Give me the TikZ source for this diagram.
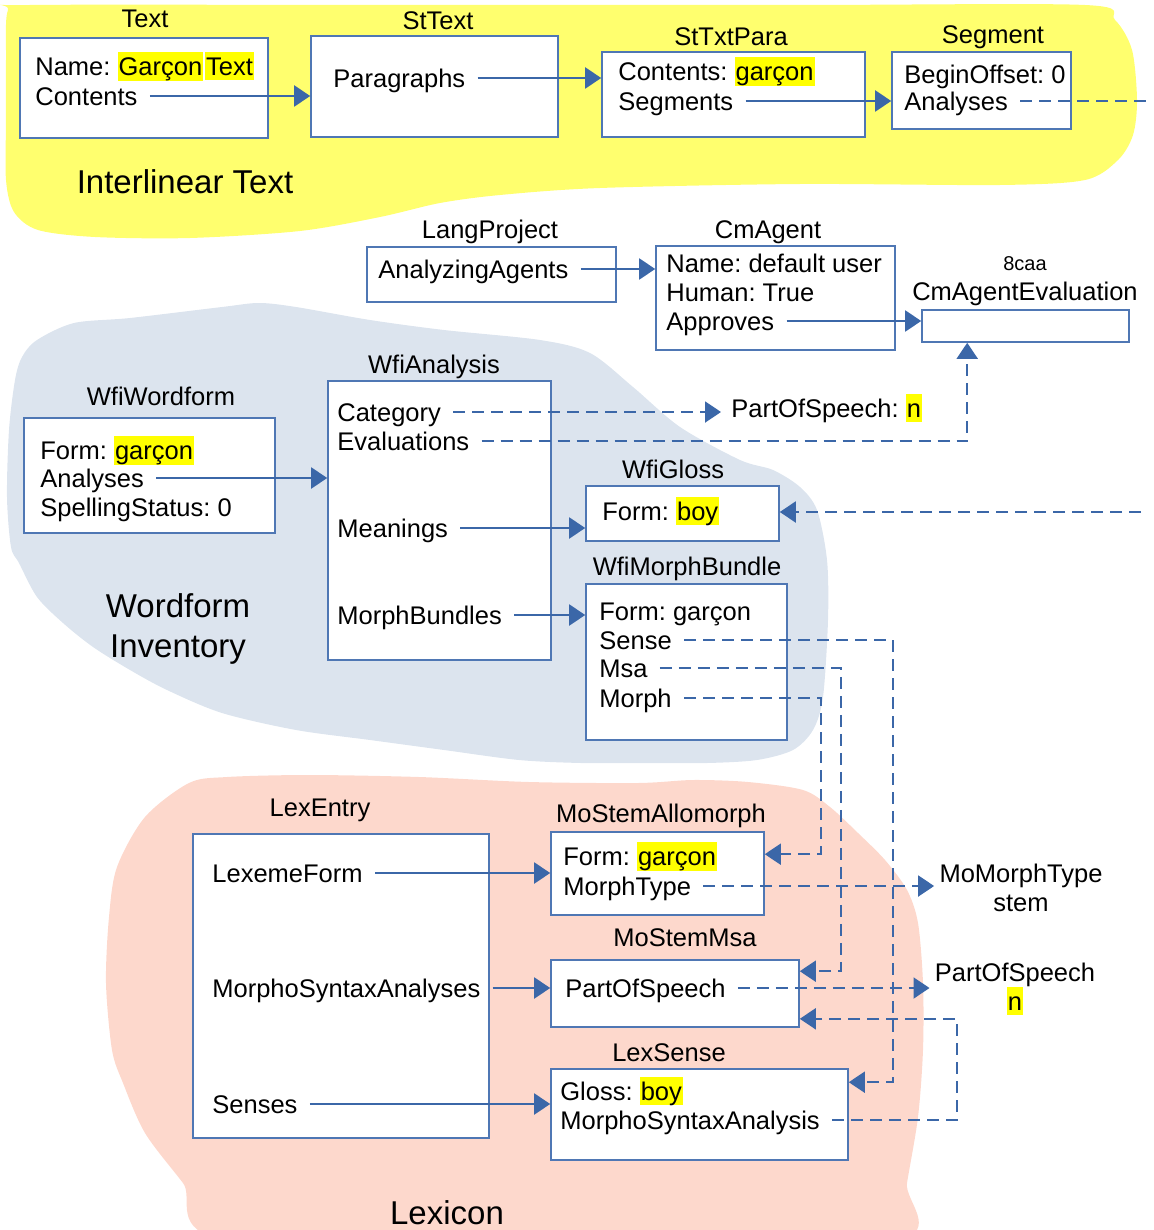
\documentclass[tikz,border=0pt]{standalone}
\usepackage{fontspec}
\setmainfont{Liberation Sans}
\usepackage{xcolor}
\usetikzlibrary{arrows.meta}
\usetikzlibrary{positioning}
\usetikzlibrary{fit}

\definecolor{linkblue}{RGB}{59,103,168}
\definecolor{boxblue}{RGB}{79,119,180}
\definecolor{itblob}{RGB}{255,255,110}
\definecolor{wfblob}{RGB}{220,228,238}
\definecolor{lxblob}{RGB}{253,216,204}
\definecolor{hlyellow}{RGB}{255,255,0}

\newcommand{\bodyfont}{\fontsize{12.75pt}{14.5pt}\selectfont}
\newcommand{\bigfont}{\fontsize{16.5pt}{20pt}\selectfont}
\newcommand{\smallfont}{\fontsize{10pt}{12pt}\selectfont}
\newcommand{\hl}[1]{{\setlength{\fboxsep}{0pt}\colorbox{hlyellow}{\rule[-2.6pt]{0pt}{14pt}\hspace{0.5pt}#1\hspace{0.5pt}}}}
\frenchspacing

\begin{document}
\begin{tikzpicture}[x=0.5pt, y=-0.5pt,
  link/.style={draw=linkblue, line width=1pt, shorten <=6pt, -{Triangle[length=8pt,width=10.5pt]}},
  dlink/.style={link, dash pattern=on 6pt off 3.5pt},
  dline/.style={draw=linkblue, line width=1pt, shorten <=6pt, dash pattern=on 6pt off 3.5pt}]
\tikzstyle{objbox} = [draw=boxblue, line width=0.8pt, fill=white, inner sep=0pt]
\tikzstyle{fld} = [anchor=west, inner sep=0pt, text height=9.1pt, text depth=0pt, font=\bodyfont]
\tikzstyle{ttl} = [inner sep=0pt, text height=9.1pt, text depth=0pt, font=\bodyfont]
\tikzstyle{area} = [inner sep=0pt, text height=11.8pt, text depth=0pt, font=\bigfont]

\useasboundingbox (0,0) rectangle (1153,1230);

\fill[itblob] plot[smooth cycle, tension=0.5] coordinates {(6,60) (8,10) (30,5) (400,5) (800,5) (1085,5) (1115,20) (1132,50) (1137,100) (1133,135) (1118,160) (1085,180) (1000,185) (800,184) (600,188) (500,195) (440,203) (380,217) (300,231) (190,238) (95,237) (38,230) (14,212) (6,180) (6,120)};
\fill[wfblob] plot[smooth cycle, tension=0.5] coordinates {(22,357) (37,340) (74,323) (130,318) (222,307) (259,303) (296,307) (370,320) (444,330) (540,340) (590,353) (633,387) (680,427) (740,460) (773,470) (800,487) (817,510) (827,560) (828,620) (823,697) (813,730) (793,750) (757,760) (707,763) (640,763) (581,763) (519,760) (444,750) (370,740) (296,730) (222,713) (167,690) (130,670) (93,647) (63,623) (37,597) (19,563) (11,547) (7,497) (9,430) (15,380)};
\fill[lxblob] plot[smooth cycle, tension=0.5] coordinates {(189,783) (227,777) (309,775) (419,777) (529,782) (638,783) (693,780) (748,782) (803,790) (830,807) (858,833) (885,860) (907,890) (918,923) (923,983) (923,1050) (918,1117) (907,1183) (898,1240) (600,1245) (227,1240) (183,1183) (145,1133) (123,1083) (112,1050) (106,983) (109,917) (117,867) (145,817)};

\node[area] (IT) at (185,182) {Interlinear Text};
\node[area, align=center, text height=, text depth=] (WI) at (178,629) {Wordform\\Inventory};
\node[area] (LX) at (447,1213) {Lexicon};

\node[objbox, fit={(20,38) (268,138)}] (Text) {};
\node[objbox, fit={(311,36) (558,137)}] (StText) {};
\node[objbox, fit={(602,52) (865,137)}] (StTxtPara) {};
\node[objbox, fit={(892,52) (1071,129)}] (Segment) {};
\node[objbox, fit={(367,247) (616,302)}] (LangProject) {};
\node[objbox, fit={(656,246) (895,350)}] (CmAgent) {};
\node[objbox, fit={(922,310) (1129,342)}] (CmEval) {};
\node[objbox, fit={(24,418) (275,533)}] (Wordform) {};
\node[objbox, fit={(328,381) (551,660)}] (Analysis) {};
\node[objbox, fit={(586,486) (779,541)}] (Gloss) {};
\node[objbox, fit={(586,584) (787,740)}] (Bundle) {};
\node[objbox, fit={(193,834) (489,1138)}] (LexEntry) {};
\node[objbox, fit={(551,832) (764,915)}] (Allomorph) {};
\node[objbox, fit={(551,960) (799,1027)}] (StemMsa) {};
\node[objbox, fit={(551,1069) (848,1160)}] (LexSense) {};

\node[ttl] (tText) at (145,18) {Text};
\node[ttl] (tStText) at (438,20) {StText};
\node[ttl] (tStTxtPara) at (731,36) {StTxtPara};
\node[ttl] (tSegment) at (993,34) {Segment};
\node[ttl] (tLangProject) at (490,229) {LangProject};
\node[ttl] (tCmAgent) at (768,229) {CmAgent};
\node[ttl, font=\smallfont, text height=7.2pt] (tGuid) at (1025,263) {8caa};
\node[ttl] (tCmEval) at (1025,291) {CmAgentEvaluation};
\node[ttl] (tAnalysis) at (434,364) {WfiAnalysis};
\node[ttl] (tWordform) at (161,396) {WfiWordform};
\node[ttl] (tGloss) at (673,469) {WfiGloss};
\node[ttl] (tBundle) at (687,566) {WfiMorphBundle};
\node[ttl] (tLexEntry) at (320,807) {LexEntry};
\node[ttl] (tAllomorph) at (661,813) {MoStemAllomorph};
\node[ttl] (tStemMsa) at (685,937) {MoStemMsa};
\node[ttl] (tLexSense) at (669,1052) {LexSense};

\node[fld] (txtName) at (35,66) {Name: \hl{Garçon}\hspace{1pt}\hl{Text}};
\node[fld] (txtContents) at (35,96) {Contents};
\node[fld] (stParagraphs) at (333,78) {Paragraphs};
\node[fld] (paraContents) at (618,71) {Contents: \hl{garçon}};
\node[fld] (paraSegments) at (618,101) {Segments};
\node[fld] (segOffset) at (904,74) {BeginOffset: 0};
\node[fld] (segAnalyses) at (904,101) {Analyses};
\node[fld] (lpAgents) at (378,269) {AnalyzingAgents};
\node[fld] (agName) at (666,263) {Name: default user};
\node[fld] (agHuman) at (666,292) {Human: True};
\node[fld] (agApproves) at (666,321) {Approves};
\node[fld] (wfForm) at (40,450) {Form: \hl{garçon}};
\node[fld] (wfAnalyses) at (40,478) {Analyses};
\node[fld] (wfStatus) at (40,507) {SpellingStatus: 0};
\node[fld] (anCategory) at (337,412) {Category};
\node[fld] (anEvals) at (337,441) {Evaluations};
\node[fld] (anMeanings) at (337,528) {Meanings};
\node[fld] (anBundles) at (337,615) {MorphBundles};
\node[fld] (posA) at (731,408) {PartOfSpeech: \hl{n}};
\node[fld] (glForm) at (602,511) {Form: \hl{boy}};
\node[fld] (mbForm) at (599,611) {Form: garçon};
\node[fld] (mbSense) at (599,640) {Sense};
\node[fld] (mbMsa) at (599,668) {Msa};
\node[fld] (mbMorph) at (599,698) {Morph};
\node[fld] (leForm) at (212,873) {LexemeForm};
\node[fld] (leMsas) at (212,988) {MorphoSyntaxAnalyses};
\node[fld] (leSenses) at (212,1104) {Senses};
\node[fld] (alForm) at (563,856) {Form: \hl{garçon}};
\node[fld] (alType) at (563,886) {MorphType};
\node[fld] (msPos) at (565,988) {PartOfSpeech};
\node[fld] (lsGloss) at (560,1091) {Gloss: \hl{boy}};
\node[fld] (lsMsa) at (560,1120) {MorphoSyntaxAnalysis};
\node[inner sep=0pt, align=center, font=\bodyfont] (MorphType) at (1021,888) {MoMorphType\\stem};
\node[inner sep=0pt, align=center, font=\bodyfont] (posB) at (1015,989) {PartOfSpeech\\\hl{n}};

\coordinate (segOut) at (1153,101);
\coordinate (glossIn) at (1153,512);

\draw[link] (txtContents.east) -- (txtContents.east -| StText.west);
\draw[link] (stParagraphs.east) -- (stParagraphs.east -| StTxtPara.west);
\draw[link] (paraSegments.east) -- (paraSegments.east -| Segment.west);
\draw[dline] (segAnalyses.east) -- (segOut);
\draw[link] (lpAgents.east) -- (lpAgents.east -| CmAgent.west);
\draw[link] (agApproves.east) -- (agApproves.east -| CmEval.west);
\draw[link] (wfAnalyses.east) -- (wfAnalyses.east -| Analysis.west);
\draw[dlink, shorten >=5pt] (anCategory.east) -- (anCategory.east -| posA.west);
\draw[dlink] (anEvals.east) -| ([xshift=23pt]CmEval.south west);
\draw[link] (anMeanings.east) -- (anMeanings.east -| Gloss.west);
\draw[link] (anBundles.east) -- (anBundles.east -| Bundle.west);
\draw[dlink] (glossIn) -- (glossIn -| Gloss.east);
\draw[dlink] (mbSense.east) -- (mbSense.east -| 893,0) |- ([yshift=-7pt]LexSense.north east);
\draw[dlink] (mbMsa.east) -- (mbMsa.east -| 841,0) |- ([yshift=-6pt]StemMsa.north east);
\draw[dlink] (mbMorph.east) -- (mbMorph.east -| 821,0) |- ([yshift=-11.5pt]Allomorph.north east);
\draw[link] (leForm.east) -- (leForm.east -| Allomorph.west);
\draw[link] (leMsas.east) -- (leMsas.east -| StemMsa.west);
\draw[link] (leSenses.east) -- (leSenses.east -| LexSense.west);
\draw[dlink, shorten >=2.5pt] (alType.east) -- (alType.east -| MorphType.west);
\draw[dlink, shorten >=2.5pt] (msPos.east) -- (msPos.east -| posB.west);
\draw[dlink] (lsMsa.east) -- (lsMsa.east -| 957,0) |- ([yshift=4.5pt]StemMsa.south east);

\end{tikzpicture}
\end{document}
